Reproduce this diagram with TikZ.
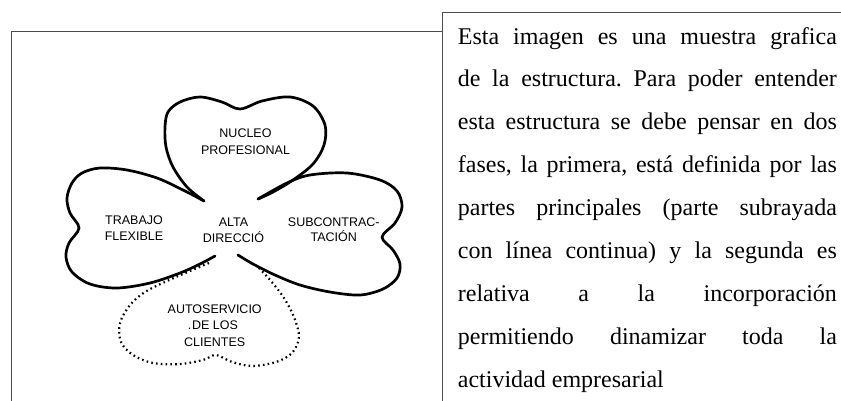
\documentclass[tikz,border=0pt]{standalone}
\usepackage{fontspec}
\setmainfont{Liberation Serif}
\newfontfamily\arialf{Liberation Sans}
\frenchspacing
\begin{document}
\begin{tikzpicture}[x=1pt,y=-1pt,
  frame/.style={draw=black!70,line width=1pt},
  leaf/.style={draw=black,line width=2.7pt,line cap=round,line join=round},
  dotleaf/.style={draw=black,line width=2.2pt,dash pattern=on 1.6pt off 3.2pt},
  lab/.style={font=\arialf\fontsize{12.5}{14}\selectfont,inner sep=0pt,anchor=base},
  para/.style={font=\fontsize{24}{28}\selectfont,inner sep=0pt,anchor=base west}]
\useasboundingbox (0,0) rectangle (841,400);
% frames
\draw[frame] (11,410) -- (11,31.5) -- (442,31.5);
\draw[frame] (442,410) -- (442,12.3) -- (850,12.3);
% clover leaves
\draw[leaf] plot[smooth,tension=0.55] coordinates {(215,256) (200,264) (180,273) (150,283) (117,288) (90,284) (72,272) (66,257) (69,243) (79,228) (70,213) (67,198) (72,183) (82,173) (100,168) (127,170) (157,178) (183,190) (204,201)};
\draw[leaf] plot[smooth,tension=0.55] coordinates {(204,201) (187,187) (173,167) (166,147) (165,127) (168,112) (180,102) (200,97) (222,102) (240,109) (262,101) (290,97) (313,106) (325,125) (324,145) (313,164) (293,180) (273,192) (258,199)};
\draw[leaf] plot[smooth,tension=0.55] coordinates {(258,199) (287,183) (310,175) (347,173) (380,180) (397,191) (402,207) (395,223) (382,237) (393,250) (400,264) (397,278) (383,289) (360,295) (330,292) (300,285) (275,275) (253,264) (238,255)};
\draw[dotleaf] plot[smooth,tension=0.55] coordinates {(209,263) (190,271) (167,281) (145,292) (130,305) (120,323) (121,342) (133,355) (153,363) (180,364) (203,360) (216,355) (232,362) (252,366) (276,362) (292,353) (299,337) (294,317) (284,298) (271,281) (258,267)};
% clover labels
\node[lab] (n1) at (245.5,137.7) {NUCLEO};
\node[lab] (n2) at (245.5,154.3) {PROFESIONAL};
\node[lab] (t1) at (134,224) {TRABAJO};
\node[lab] (t2) at (134,240.3) {FLEXIBLE};
\node[lab] (a1) at (233.5,226) {ALTA};
\node[lab] (a2) at (233.5,242.3) {DIRECCIÓ};
\node[lab] (s1) at (333.8,226) {SUBCONTRAC-};
\node[lab] (s2) at (333.8,241.7) {TACIÓN};
\node[lab] (c1) at (214.7,313.3) {AUTOSERVICIO};
\node[lab] (c2) at (215,329.3) {DE LOS};
\node[lab] (c0) at (189.5,329.3) {.};
\node[lab] (c3) at (214.7,346) {CLIENTES};
% paragraph
\node[para] (p1) at (457.7,44) {\makebox[379pt][s]{Esta imagen es una muestra grafica}};
\node[para] (p2) at (457.7,86.9) {\makebox[379pt][s]{de la estructura. Para poder entender}};
\node[para] (p3) at (457.7,129.8) {\makebox[379pt][s]{esta estructura se debe pensar en dos}};
\node[para] (p4) at (457.7,172.7) {\makebox[379pt][s]{fases, la primera, está definida por las}};
\node[para] (p5) at (457.7,215.6) {\makebox[379pt][s]{partes principales (parte subrayada}};
\node[para] (p6) at (457.7,258.5) {\makebox[379pt][s]{con línea continua) y la segunda es}};
\node[para] (p7) at (457.7,301.4) {\makebox[379pt][s]{relativa a la incorporación}};
\node[para] (p8) at (457.7,344.3) {\makebox[379pt][s]{permitiendo dinamizar toda la}};
\node[para] (p9) at (457.7,387.2) {actividad empresarial};
\end{tikzpicture}
\end{document}
